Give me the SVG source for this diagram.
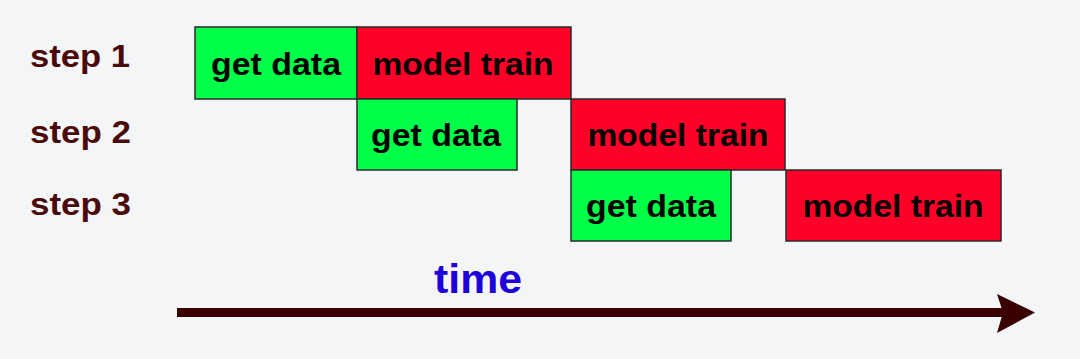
<svg xmlns="http://www.w3.org/2000/svg" width="1080" height="359" viewBox="0 0 1080 359">
<style>
.bg{fill:#f4f5f7}
.g{fill:#00ff48;stroke:#2a2a2a;stroke-width:1.5}
.r{fill:#ff0028;stroke:#2a2a2a;stroke-width:1.5}
.t{font-family:"Liberation Sans",Arial,sans-serif;font-weight:bold;font-size:31px;fill:#000;text-anchor:middle}
.s{font-family:"Liberation Sans",Arial,sans-serif;font-weight:bold;font-size:31px;fill:#4a0a0a}
.time{font-family:"Liberation Sans",Arial,sans-serif;font-weight:bold;font-size:41px;fill:#1e00dc}
</style>
<rect class="bg" x="0" y="0" width="1080" height="359"/>
<g id="labels">
<text class="s" x="30" y="67" textLength="100" lengthAdjust="spacingAndGlyphs">step 1</text>
<text class="s" x="30" y="143" textLength="101" lengthAdjust="spacingAndGlyphs">step 2</text>
<text class="s" x="30" y="215" textLength="101" lengthAdjust="spacingAndGlyphs">step 3</text>
</g>
<g id="s1-get">
<rect class="g" x="195" y="27" width="162" height="72"/>
<text class="t" x="276" y="75" textLength="130" lengthAdjust="spacingAndGlyphs">get data</text>
</g>
<g id="s1-train">
<rect class="r" x="357" y="27" width="214" height="72"/>
<text class="t" x="463" y="75" textLength="181" lengthAdjust="spacingAndGlyphs">model train</text>
</g>
<g id="s2-get">
<rect class="g" x="357" y="99" width="160" height="71"/>
<text class="t" x="436" y="146" textLength="130" lengthAdjust="spacingAndGlyphs">get data</text>
</g>
<g id="s2-train">
<rect class="r" x="571" y="99" width="214" height="71"/>
<text class="t" x="678" y="146" textLength="181" lengthAdjust="spacingAndGlyphs">model train</text>
</g>
<g id="s3-get">
<rect class="g" x="571" y="170" width="160" height="71"/>
<text class="t" x="651" y="217" textLength="130" lengthAdjust="spacingAndGlyphs">get data</text>
</g>
<g id="s3-train">
<rect class="r" x="786" y="170" width="215" height="71"/>
<text class="t" x="893" y="217" textLength="181" lengthAdjust="spacingAndGlyphs">model train</text>
</g>
<g id="connectors">
<rect x="177" y="308" width="828" height="9" fill="#3a0000"/>
<polygon points="997,294 1035,312.5 997,333 1003,312.5" fill="#3a0000"/>
</g>
<text class="time" x="434" y="293" textLength="88" lengthAdjust="spacingAndGlyphs">time</text>
</svg>
